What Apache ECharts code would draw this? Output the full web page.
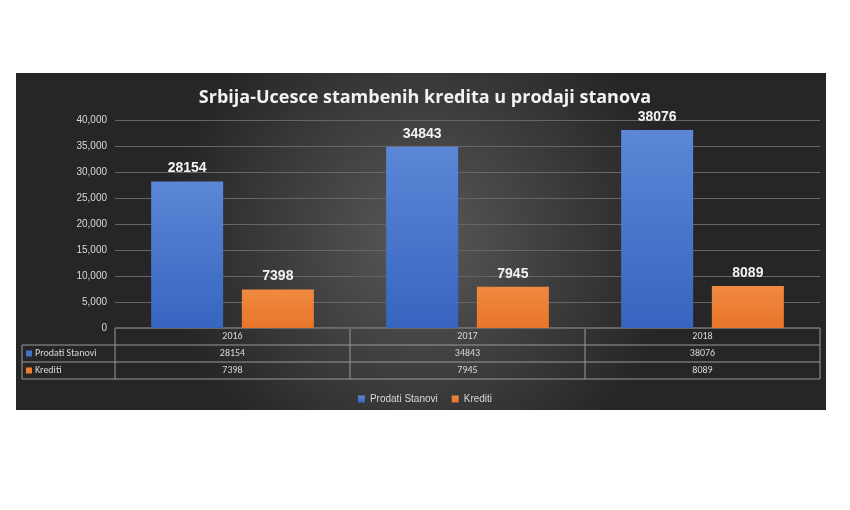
<!DOCTYPE html>
<html><head><meta charset="utf-8">
<script src="https://cdn.jsdelivr.net/npm/echarts@6/dist/echarts.min.js"></script>
<style>html,body{margin:0;background:#fff}#c{width:850px;height:510px}</style>
</head><body><div id="c"></div>
<script>
var years = ['2016', '2017', '2018'];
var prodati = [28154, 34843, 38076];
var krediti = [7398, 7945, 8089];
var seriesNames = ['Prodati Stanovi', 'Krediti'];
var colors = ['#4472c4', '#ed7d31'];

var chart = echarts.init(document.getElementById('c'));
var L = 115, R = 820, T = 120, B = 328, rowH = 17;
var colW = (R - L) / years.length;
var lineCol = '#9a9a9a';
var g = [];
// panel background
g.push({type: 'rect', shape: {x: 16, y: 73, width: 810, height: 337}, z: -10,
  style: {fill: new echarts.graphic.RadialGradient(0.5, 0.5, 0.75, [
    {offset: 0, color: '#595959'}, {offset: 1, color: '#262626'}])}});
// table grid
g.push({type: 'line', shape: {x1: L, y1: B, x2: R, y2: B}, style: {stroke: lineCol}});
for (var r = 1; r <= 3; r++) {
  g.push({type: 'line', shape: {x1: 22, y1: B + rowH * r, x2: R, y2: B + rowH * r}, style: {stroke: lineCol}});
}
g.push({type: 'line', shape: {x1: 22, y1: B + rowH, x2: 22, y2: B + rowH * 3}, style: {stroke: lineCol}});
for (var c = 0; c <= years.length; c++) {
  g.push({type: 'line', shape: {x1: L + colW * c, y1: B, x2: L + colW * c, y2: B + rowH * 3}, style: {stroke: lineCol}});
}
var rows = [prodati, krediti];
years.forEach(function (y, i) {
  g.push({type: 'text', x: L + colW * (i + 0.5), y: B + rowH / 2,
    style: {text: y, fill: '#d9d9d9', font: '10px Calibri, "Liberation Sans", sans-serif', textAlign: 'center', textVerticalAlign: 'middle'}});
  rows.forEach(function (arr, k) {
    g.push({type: 'text', x: L + colW * (i + 0.5), y: B + rowH * (k + 1.5),
      style: {text: String(arr[i]), fill: '#d9d9d9', font: '10px Calibri, "Liberation Sans", sans-serif', textAlign: 'center', textVerticalAlign: 'middle'}});
  });
});
seriesNames.forEach(function (n, k) {
  var cy = B + rowH * (k + 1.5);
  g.push({type: 'rect', shape: {x: 26, y: cy - 3, width: 6, height: 6}, style: {fill: colors[k]}});
  g.push({type: 'text', x: 35, y: cy, style: {text: n, fill: '#d9d9d9', font: '10px Calibri, "Liberation Sans", sans-serif', textVerticalAlign: 'middle'}});
});

var lbl = {show: true, position: 'top', color: '#f2f2f2', fontWeight: 'bold', fontSize: 14, distance: 6};
chart.setOption({
  backgroundColor: '#fff',
  title: {text: 'Srbija-Ucesce stambenih kredita u prodaji stanova', left: 'center', top: 84,
    textStyle: {color: '#f2f2f2', fontSize: 18, fontWeight: 'bold', fontFamily: '"Open Sans", sans-serif'}},
  legend: {data: seriesNames, top: 389, left: 'center', itemWidth: 7, itemHeight: 7, icon: 'rect', itemGap: 14,
    textStyle: {color: '#d9d9d9', fontSize: 10}},
  grid: {left: L, right: 850 - R, top: T, bottom: 510 - B},
  xAxis: {type: 'category', data: years, axisLabel: {show: false}, axisTick: {show: false},
    axisLine: {show: false}},
  yAxis: {type: 'value', min: 0, max: 40000, interval: 5000,
    axisLabel: {color: '#d9d9d9', fontSize: 10}, splitLine: {lineStyle: {color: '#666'}}},
  series: [
    {name: seriesNames[0], type: 'bar', data: prodati, barWidth: 72, barGap: '26%', label: lbl,
      itemStyle: {color: new echarts.graphic.LinearGradient(0, 0, 0, 1, [{offset: 0, color: '#5b87d6'}, {offset: 1, color: '#3765c0'}])}},
    {name: seriesNames[1], type: 'bar', data: krediti, barWidth: 72, label: lbl,
      itemStyle: {color: new echarts.graphic.LinearGradient(0, 0, 0, 1, [{offset: 0, color: '#f08a40'}, {offset: 1, color: '#e8752a'}])}}
  ],
  graphic: g
});
</script></body></html>
